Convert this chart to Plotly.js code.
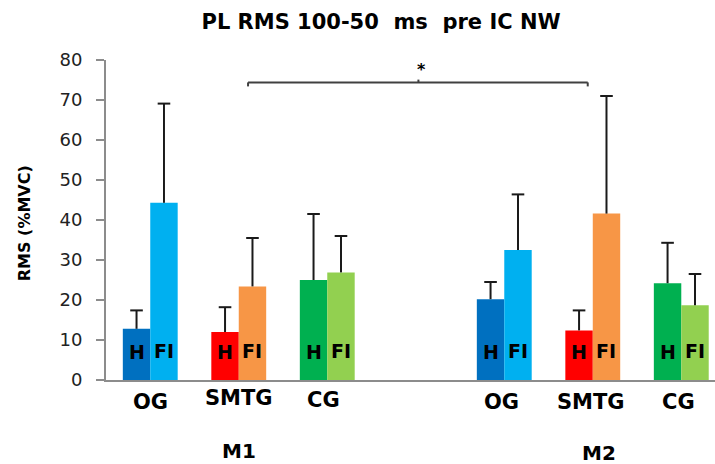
<!DOCTYPE html>
<html>
<head>
<meta charset="utf-8">
<script src="https://cdn.plot.ly/plotly-3.0.1.min.js"></script>
<style>html,body{margin:0;padding:0;background:#fff;}#chart{width:715px;height:464px;}</style>
</head>
<body>
<div id="chart"></div>
<script>
// ---- data ----
const groups = ["OG", "SMTG", "CG", "OG", "SMTG", "CG"];
const blocks = ["M1", "M2"];
const groupPos = [0, 1, 2, 4, 5, 6];
const hValues = [12.8, 12.0, 25.0, 20.2, 12.4, 24.2];
const hErrors = [4.6, 6.2, 16.5, 4.3, 5.0, 10.1];
const fiValues = [44.3, 23.4, 26.9, 32.5, 41.6, 18.7];
const fiErrors = [24.8, 12.1, 9.1, 13.9, 29.4, 7.8];
const hColors = ["#0070C0", "#FF0000", "#00B050", "#0070C0", "#FF0000", "#00B050"];
const fiColors = ["#00B0F0", "#F79646", "#92D050", "#00B0F0", "#F79646", "#92D050"];
const barLabels = ["H", "FI"];
const yTicks = [0, 10, 20, 30, 40, 50, 60, 70, 80];
const sigMark = "*";
const bracketY = 74.4;

// ---- layout helpers ----
const bargap = 0.38;
const half = (1 - bargap) / 2;
const FONT = "DejaVu Sans";
const YMAX = 80;

const traces = [
  {type: "bar", name: "H", x: groupPos, y: hValues, marker: {color: hColors, line: {width: 0}}, hoverinfo: "y"},
  {type: "bar", name: "FI", x: groupPos, y: fiValues, marker: {color: fiColors, line: {width: 0}}, hoverinfo: "y"}
];
// upper-only error bars: stem from bar top plus a cap at the top
function errTrace(offset, vals, errs) {
  return {type: "scatter", mode: "markers", x: groupPos.map(p => p + offset),
    y: vals.map((v, i) => v + errs[i]),
    marker: {symbol: "line-ew-open", size: 9, color: "#1a1a1a", line: {width: 2, color: "#1a1a1a"}},
    error_y: {type: "data", symmetric: false, array: errs.map(() => 0), arrayminus: errs,
      color: "#1a1a1a", thickness: 2, width: 0},
    hoverinfo: "skip", cliponaxis: false};
}
traces.push(errTrace(-half / 2, hValues, hErrors));
traces.push(errTrace(half / 2, fiValues, fiErrors));

const annotations = [];
// H / FI labels inside the bars
groupPos.forEach((p) => {
  annotations.push({x: p - half / 2, y: 7, xref: "x", yref: "y", text: "<b>" + barLabels[0] + "</b>",
    showarrow: false, font: {family: FONT, size: 19, color: "#000"}, xanchor: "center", yanchor: "middle"});
  annotations.push({x: p + half / 2, y: 7.3, xref: "x", yref: "y", text: "<b>" + barLabels[1] + "</b>",
    showarrow: false, font: {family: FONT, size: 19, color: "#000"}, xanchor: "center", yanchor: "middle"});
});
// category labels under each group
const labelShiftX = [0, 0, -0.04, -0.03, -0.02, -0.03];
const labelY = [-5.4, -4.5, -4.9, -5.5, -5.4, -5.4];
groups.forEach((g, i) => {
  annotations.push({x: groupPos[i] + labelShiftX[i], y: labelY[i] / YMAX, xref: "x", yref: "paper", text: "<b>" + g + "</b>",
    showarrow: false, font: {family: FONT, size: 21, color: "#000"}, xanchor: "center", yanchor: "middle"});
});
// block labels
const blockX = [1, 5.07];
const blockY = [-17.75, -18.2];
blocks.forEach((b, i) => {
  annotations.push({x: blockX[i], y: blockY[i] / YMAX, xref: "x", yref: "paper", text: "<b>" + b + "</b>",
    showarrow: false, font: {family: FONT, size: 20, color: "#000"}, xanchor: "center", yanchor: "middle"});
});
// y-axis title
annotations.push({x: -0.1346, y: 0.49, xref: "paper", yref: "paper", text: "<b>RMS (%MVC)</b>",
  textangle: -90, showarrow: false, font: {family: FONT, size: 16, color: "#000"}, xanchor: "center", yanchor: "middle"});
// significance star
annotations.push({x: 3.07, y: bracketY + 3.3, xref: "x", yref: "y", text: "<b>" + sigMark + "</b>",
  showarrow: false, font: {family: FONT, size: 16, color: "#000"}, xanchor: "center", yanchor: "middle"});

const bx0 = 1.105, bx1 = 4.943, bmid = 3.03;
const lineStyle = {color: "#404040", width: 2};
const shapes = [
  {type: "line", xref: "x", yref: "y", x0: bx0, x1: bx1, y0: bracketY, y1: bracketY, line: lineStyle},
  {type: "line", xref: "x", yref: "y", x0: bx0, x1: bx0, y0: bracketY, y1: bracketY - 1, line: lineStyle},
  {type: "line", xref: "x", yref: "y", x0: bx1, x1: bx1, y0: bracketY, y1: bracketY - 1, line: lineStyle},
  {type: "line", xref: "x", yref: "y", x0: bmid, x1: bmid, y0: bracketY, y1: bracketY + 0.7, line: lineStyle}
];

const layout = {
  width: 715, height: 464,
  margin: {l: 106, r: 0, t: 60, b: 84, pad: 0},
  paper_bgcolor: "#fff", plot_bgcolor: "#fff",
  showlegend: false,
  barmode: "group", bargap: bargap, bargroupgap: 0,
  title: {text: "<b>PL RMS 100-50  ms  pre IC NW</b>", font: {family: FONT, size: 21, color: "#000"},
    x: 0.533, xref: "container", xanchor: "center", y: 1 - 22 / 464, yref: "container", yanchor: "middle"},
  xaxis: {range: [-0.5, 6.381], showticklabels: false, ticks: "", showgrid: false, zeroline: false,
    showline: true, linecolor: "#8c8c8c", linewidth: 2, fixedrange: true},
  yaxis: {range: [0, YMAX], tickvals: yTicks, ticktext: yTicks.map(String), ticks: "outside", ticklen: 8,
    tickwidth: 1.5, tickcolor: "#8c8c8c", showline: true, linecolor: "#8c8c8c", linewidth: 2,
    ticklabelstandoff: 10,
    showgrid: false, zeroline: false, tickfont: {family: FONT, size: 18, color: "#222"}, fixedrange: true},
  annotations: annotations,
  shapes: shapes
};

Plotly.newPlot("chart", traces, layout, {displayModeBar: false, staticPlot: true});
</script>
</body>
</html>
